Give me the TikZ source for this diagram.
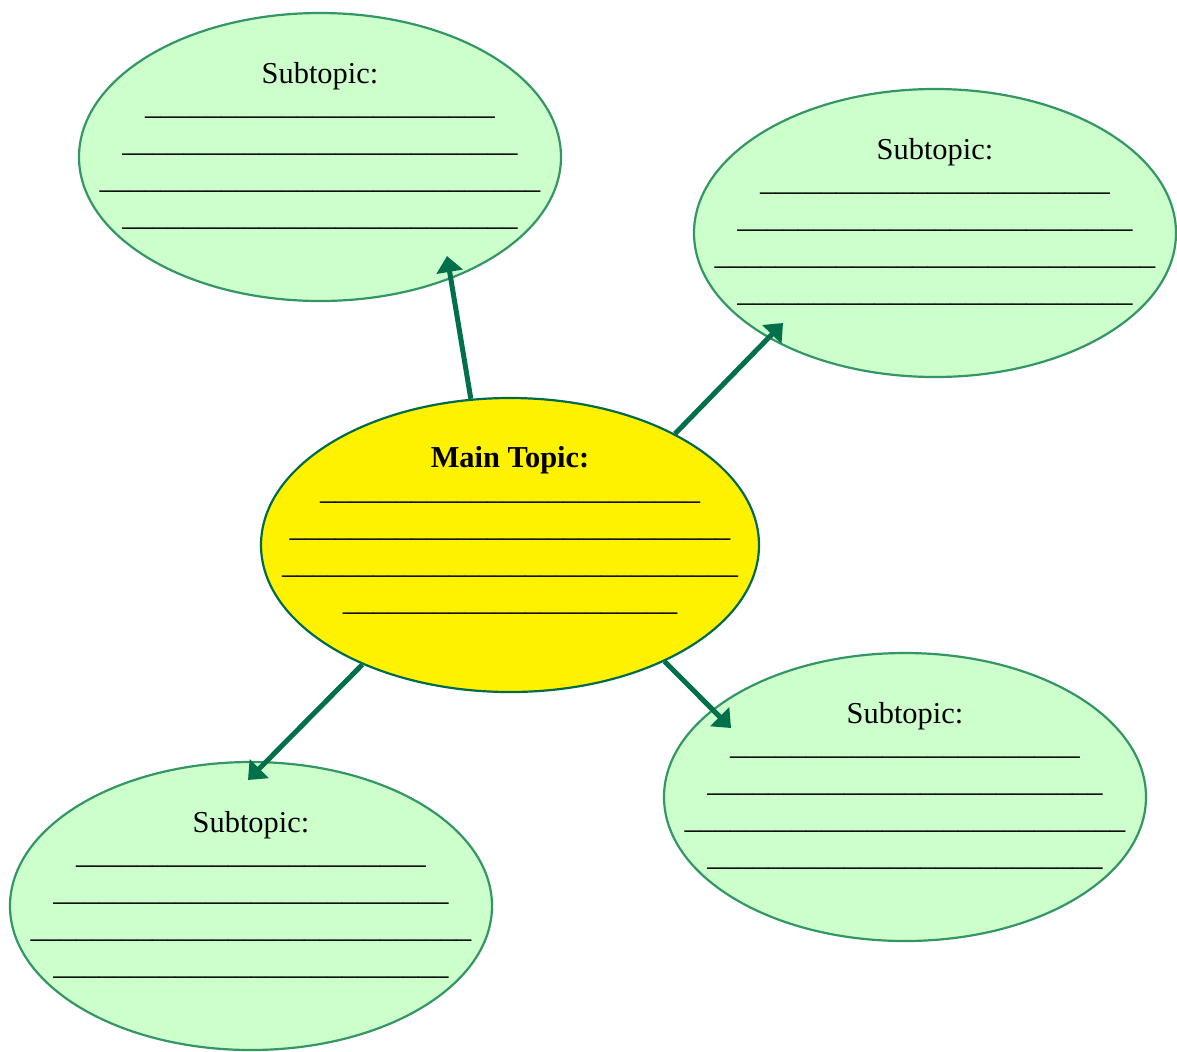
\documentclass[tikz,border=0pt]{standalone}
\usepackage{fontspec}
\setmainfont{Liberation Serif}
\usetikzlibrary{shapes.geometric,arrows.meta}
\definecolor{subfill}{RGB}{204,255,204}
\definecolor{subdraw}{RGB}{51,150,100}
\definecolor{mainfill}{RGB}{255,242,0}
\definecolor{maindraw}{RGB}{0,107,74}
\definecolor{arrowc}{RGB}{0,112,74}
\newcommand\myblanks[1]{\foreach\k in {1,...,#1}{\textunderscore}}
\begin{document}
\begin{tikzpicture}[x=0.5pt,y=-0.5pt,
  subtopic/.style={ellipse,draw=subdraw,fill=subfill,line width=1.1pt,minimum width=241pt,minimum height=144pt,inner sep=0pt},
  maintopic/.style={ellipse,draw=maindraw,fill=mainfill,line width=1.1pt,minimum width=249pt,minimum height=147pt,inner sep=0pt},
  txt/.style={anchor=north,inner sep=0pt,align=center,font=\fontsize{15.2}{18.5}\selectfont},
  link/.style={draw=arrowc,line width=2.5pt,-{Triangle[length=8pt,width=13pt]}}]
\useasboundingbox (0,0) rectangle (1177,1051);
% ellipses
\node[subtopic] (tl) at (320,157) {};
\node[subtopic] (tr) at (935,233) {};
\node[subtopic] (br) at (905,797) {};
\node[subtopic] (bl) at (251,906) {};
\node[maintopic] (main) at (510,545) {};
% texts
\node[txt] (tltxt) at (320,62) {Subtopic:\\[-3pt]\myblanks{23}\\\myblanks{26}\\\myblanks{29}\\\myblanks{26}};
\node[txt] (trtxt) at (935,138) {Subtopic:\\[-3pt]\myblanks{23}\\\myblanks{26}\\\myblanks{29}\\\myblanks{26}};
\node[txt] (brtxt) at (905,702) {Subtopic:\\[-3pt]\myblanks{23}\\\myblanks{26}\\\myblanks{29}\\\myblanks{26}};
\node[txt] (bltxt) at (251,811) {Subtopic:\\[-3pt]\myblanks{23}\\\myblanks{26}\\\myblanks{29}\\\myblanks{26}};
\node[txt] (maintxt) at (510,446) {\textbf{Main Topic:}\\[-2.5pt]\myblanks{25}\\\myblanks{29}\\\myblanks{30}\\\myblanks{22}};
% arrow tips
\coordinate (ttl) at (447,256);
\coordinate (ttr) at (783,323);
\coordinate (tbl) at (248,780);
\coordinate (tbr) at (731,728);
\draw[link] (main.105.2) -- (ttl);
\draw[link] (main.34.5) -- (ttr);
\draw[link] (main.219.7) -- (tbl);
\draw[link] (main.323) -- (tbr);
\end{tikzpicture}
\end{document}
